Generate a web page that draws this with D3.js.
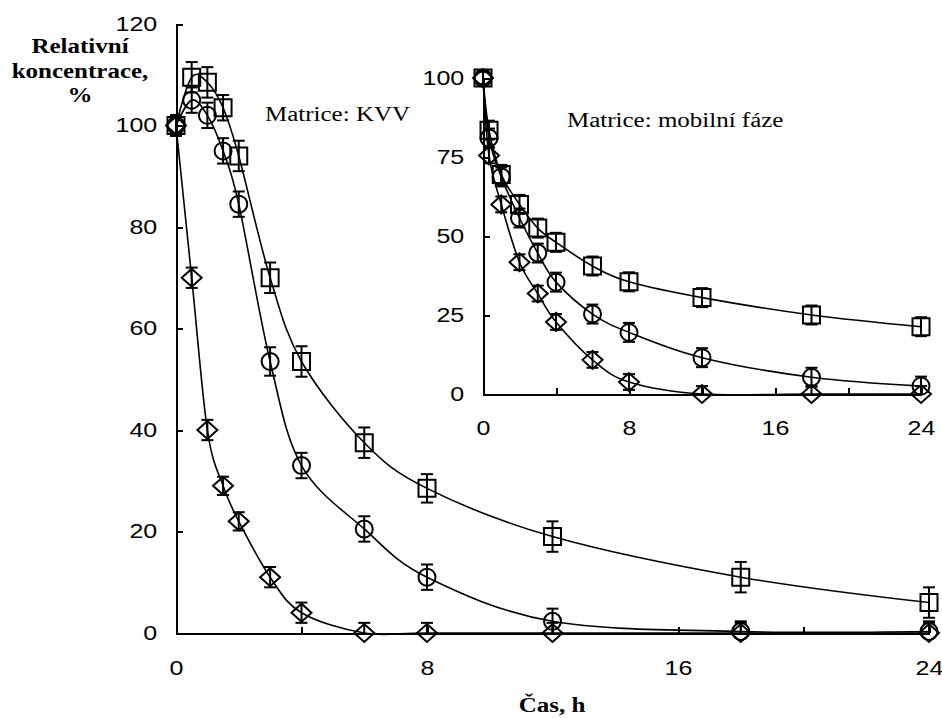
<!doctype html>
<html>
<head>
  <script src="https://d3js.org/d3.v7.min.js"></script>
  <style>
  body { margin: 0; background: #fff; }
  svg { font-family: "Liberation Serif", "Times New Roman", serif; }
  .axis path, .axis line { stroke: #000; stroke-width: 2; shape-rendering: crispEdges; }
  .axis text { font-size: 20px; fill: #000; }
  .curve { fill: none; stroke: #000; stroke-width: 1.6; }
  .err { stroke: #000; stroke-width: 2; }
  .mark { fill: none; stroke: #000; stroke-width: 2; }
  </style>
</head>
<body>
  <script>
    // main chart: matrix KVV
    var mainTime = [0, 0.5, 1, 1.5, 2, 3, 4, 6, 8, 12, 18, 24];
    var mainDiamond = [100, 70, 40, 29, 22, 11, 4, 0, 0, 0, 0, 0];
    var mainDiamondErr = [2, 2, 2, 1.8, 1.8, 2, 2, 2, 2, 2, 2, 2];
    var mainCircle = [100, 105, 102, 95, 84.5, 53.5, 33, 20.5, 11, 2.3, 0.3, 0.3];
    var mainCircleErr = [2, 2.5, 2.5, 2.5, 2.5, 2.8, 2.5, 2.5, 2.5, 2.5, 2, 2];
    var mainSquare = [100, 109.5, 108.5, 103.5, 94, 70, 53.5, 37.5, 28.5, 19, 11, 6];
    var mainSquareErr = [2, 3, 3, 2.5, 3, 3, 3, 3, 2.8, 3, 3, 3];

    // inset: mobile phase
    var insetTime = [0, 0.33, 1, 2, 3, 4, 6, 8, 12, 18, 24];
    var insetDiamond = [100, 75.5, 60, 41.7, 31.8, 22.8, 10.8, 3.8, 0, 0, 0];
    var insetDiamondErr = [2, 2.5, 2.5, 2.5, 2.5, 2.5, 2.5, 2.5, 2.5, 2.5, 2.5];
    var insetCircle = [100, 81, 68.7, 55.7, 44.6, 35.4, 25.3, 19.5, 11.5, 5.3, 2.5];
    var insetCircleErr = [2, 3, 3, 3, 3, 3, 3, 3, 3, 3, 3];
    var insetSquare = [100, 83.5, 69.5, 60, 52.5, 48, 40.5, 35.5, 30.5, 25, 21.3];
    var insetSquareErr = [2, 3, 3, 3, 3, 3, 3, 3, 3, 3, 3];

    var xTicks = [0, 4, 8, 12, 16, 20, 24];
    var mainYTicks = [0, 20, 40, 60, 80, 100, 120];
    var insetYTicks = [0, 25, 50, 75, 100];

    var stretch = "scale(1.25,1)";

    var svg = d3.select("body").append("svg")
        .attr("width", 942)
        .attr("height", 718);

    function series(t, v, e) {
      return t.map(function(d, i) { return {t: d, v: v[i], e: e[i]}; });
    }

    function drawPanel(o) {
      var x = d3.scaleLinear().domain([0, 24]).range(o.xr);
      var y = d3.scaleLinear().domain(o.yd).range(o.yr);

      var xAxis = d3.axisBottom(x)
          .tickValues(xTicks)
          .tickSizeInner(-6)
          .tickSizeOuter(0)
          .tickPadding(o.xPad)
          .tickFormat(function(d) { return d % 8 === 0 ? d : ""; });
      var yAxis = d3.axisLeft(y)
          .tickValues(o.yTicks)
          .tickSizeInner(-7)
          .tickSizeOuter(0)
          .tickPadding(15);

      svg.append("g")
          .attr("class", "axis")
          .attr("transform", "translate(0," + o.yr[0] + ")")
          .call(xAxis)
        .selectAll("text")
          .attr("transform", stretch);

      svg.append("g")
          .attr("class", "axis")
          .attr("transform", "translate(" + o.xr[0] + ",0)")
          .call(yAxis)
        .selectAll("text")
          .attr("transform", stretch);

      var line = d3.line()
          .x(function(d) { return x(d.t); })
          .y(function(d) { return y(d.v); })
          .curve(d3.curveCardinal.tension(0));

      o.data.forEach(function(s) {
        var g = svg.append("g");
        g.append("path")
            .datum(s.pts)
            .attr("class", "curve")
            .attr("d", line);

        var eb = g.selectAll(".eb")
            .data(s.pts)
          .enter().append("g");
        eb.append("line")
            .attr("class", "err")
            .attr("x1", function(d) { return x(d.t); })
            .attr("x2", function(d) { return x(d.t); })
            .attr("y1", function(d) { return y(Math.max(0, d.v - d.e)); })
            .attr("y2", function(d) { return y(d.v + d.e); });
        eb.append("line")
            .attr("class", "err")
            .attr("x1", function(d) { return x(d.t) - 6; })
            .attr("x2", function(d) { return x(d.t) + 6; })
            .attr("y1", function(d) { return y(d.v + d.e); })
            .attr("y2", function(d) { return y(d.v + d.e); });
        eb.filter(function(d) { return d.v - d.e > 0; }).append("line")
            .attr("class", "err")
            .attr("x1", function(d) { return x(d.t) - 6; })
            .attr("x2", function(d) { return x(d.t) + 6; })
            .attr("y1", function(d) { return y(d.v - d.e); })
            .attr("y2", function(d) { return y(d.v - d.e); });

        g.selectAll(".mark")
            .data(s.pts)
          .enter().append("path")
            .attr("class", "mark")
            .attr("transform", function(d) { return "translate(" + x(d.t) + "," + y(d.v) + ")"; })
            .attr("d", s.shape);
      });
    }

    var diamond = "M-10,0L0,-9L10,0L0,9Z";
    var square = "M-8.5,-8.5H8.5V8.5H-8.5Z";
    var circle = "M8.5,0A8.5,8.5 0 1,1 -8.5,0A8.5,8.5 0 1,1 8.5,0Z";

    drawPanel({
      xr: [176, 929], yr: [633, 24], yd: [0, 120], yTicks: mainYTicks, xPad: 28,
      data: [
        {pts: series(mainTime, mainSquare, mainSquareErr), shape: square},
        {pts: series(mainTime, mainCircle, mainCircleErr), shape: circle},
        {pts: series(mainTime, mainDiamond, mainDiamondErr), shape: diamond}
      ]
    });

    drawPanel({
      xr: [483, 921], yr: [394, 78], yd: [0, 100], yTicks: insetYTicks, xPad: 27,
      data: [
        {pts: series(insetTime, insetSquare, insetSquareErr), shape: square},
        {pts: series(insetTime, insetCircle, insetCircleErr), shape: circle},
        {pts: series(insetTime, insetDiamond, insetDiamondErr), shape: diamond}
      ]
    });

    function label(txt, x, y, anchor, bold) {
      svg.append("text")
          .attr("transform", "translate(" + x + "," + y + ") " + stretch)
          .attr("text-anchor", anchor)
          .style("font-size", "20px")
          .style("font-weight", bold ? "bold" : "normal")
          .text(txt);
    }

    label("Relativní", 80, 53, "middle", true);
    label("koncentrace,", 80, 78, "middle", true);
    label("%", 80, 102, "middle", true);
    label("Matrice: KVV", 265, 121, "start", false);
    label("Matrice: mobilní fáze", 567, 127, "start", false);
    label("Čas, h", 552, 712, "middle", true);
  </script>
</body>
</html>
